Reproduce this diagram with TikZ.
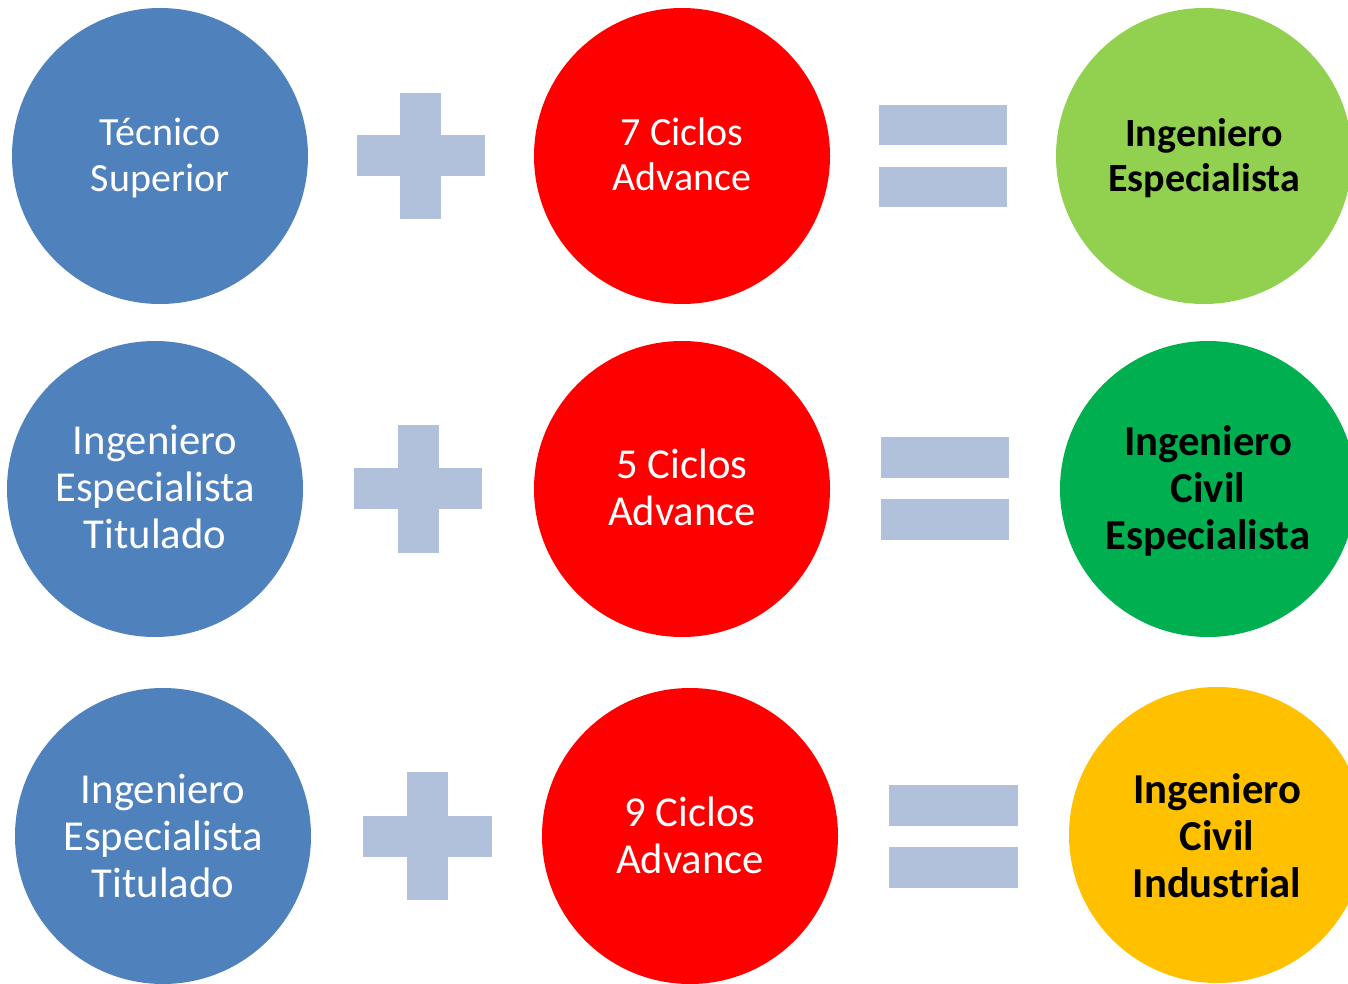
\documentclass[tikz,border=0pt]{standalone}
\usepackage{fontspec}
\setmainfont{Carlito}
\definecolor{cblue}{HTML}{4F81BD}
\definecolor{cred}{HTML}{FF0000}
\definecolor{cgreen}{HTML}{92D050}
\definecolor{cdgreen}{HTML}{00B050}
\definecolor{cyellow}{HTML}{FFC000}
\definecolor{csign}{HTML}{B2C1DB}
\begin{document}
\begin{tikzpicture}[x=0.75pt,y=-0.75pt,
  disc/.style={circle,minimum size=222pt,inner sep=0pt},
  txt/.style={inner sep=0pt,align=center},
  small/.style={txt,font=\fontsize{30}{34}\selectfont},
  big/.style={txt,font=\fontsize{32}{35.3}\selectfont},
  smallb/.style={txt,font=\fontsize{30}{34}\selectfont\bfseries},
  bigb/.style={txt,font=\fontsize{32}{35.3}\selectfont\bfseries},
  light/.style={text=white},
  dark/.style={text=black},
  sign/.style={fill=csign}]
\useasboundingbox (0,0) rectangle (1348,984);
\clip (0,0) rectangle (1348,984);
% row 1
\node[disc,fill=cblue] (a1) at (160,156) {};
\node[small,light] (a1t) at (160,158) {Técnico\\Superior};
\node[disc,fill=cred] (b1) at (682,156) {};
\node[small,light] (b1t) at (682,154.5) {7 Ciclos\\Advance};
\node[disc,fill=cgreen] (c1) at (1204,156) {};
\node[smallb,dark] (c1t) at (1204,158) {Ingeniero\\Especialista};
\fill[sign] (400,93) rectangle (441,219);
\fill[sign] (357,135) rectangle (485,176);
\fill[sign] (879,105) rectangle (1007,145);
\fill[sign] (879,167) rectangle (1007,207);
% row 2
\node[disc,fill=cblue] (a2) at (155,489) {};
\node[big,light] (a2t) at (155,487) {Ingeniero\\Especialista\\Titulado};
\node[disc,fill=cred] (b2) at (682,489) {};
\node[big,light] (b2t) at (682,487.5) {5 Ciclos\\Advance};
\node[disc,fill=cdgreen] (c2) at (1208,489) {};
\node[bigb,dark] (c2t) at (1208,491) {Ingeniero\\Civil\\Especialista};
\fill[sign] (398,425) rectangle (439,553);
\fill[sign] (354,468) rectangle (482,509);
\fill[sign] (881,437) rectangle (1009,478);
\fill[sign] (881,499) rectangle (1009,540);
% row 3
\node[disc,fill=cblue] (a3) at (163,836) {};
\node[big,light] (a3t) at (163,836) {Ingeniero\\Especialista\\Titulado};
\node[disc,fill=cred] (b3) at (690,836) {};
\node[big,light] (b3t) at (690,835.5) {9 Ciclos\\Advance};
\node[disc,fill=cyellow] (c3) at (1217,835) {};
\node[bigb,dark] (c3t) at (1217,836) {Ingeniero\\Civil\\Industrial};
\fill[sign] (407,772) rectangle (448,900);
\fill[sign] (363,816) rectangle (492,857);
\fill[sign] (889,785) rectangle (1018,826);
\fill[sign] (889,847) rectangle (1018,888);
\end{tikzpicture}
\end{document}
